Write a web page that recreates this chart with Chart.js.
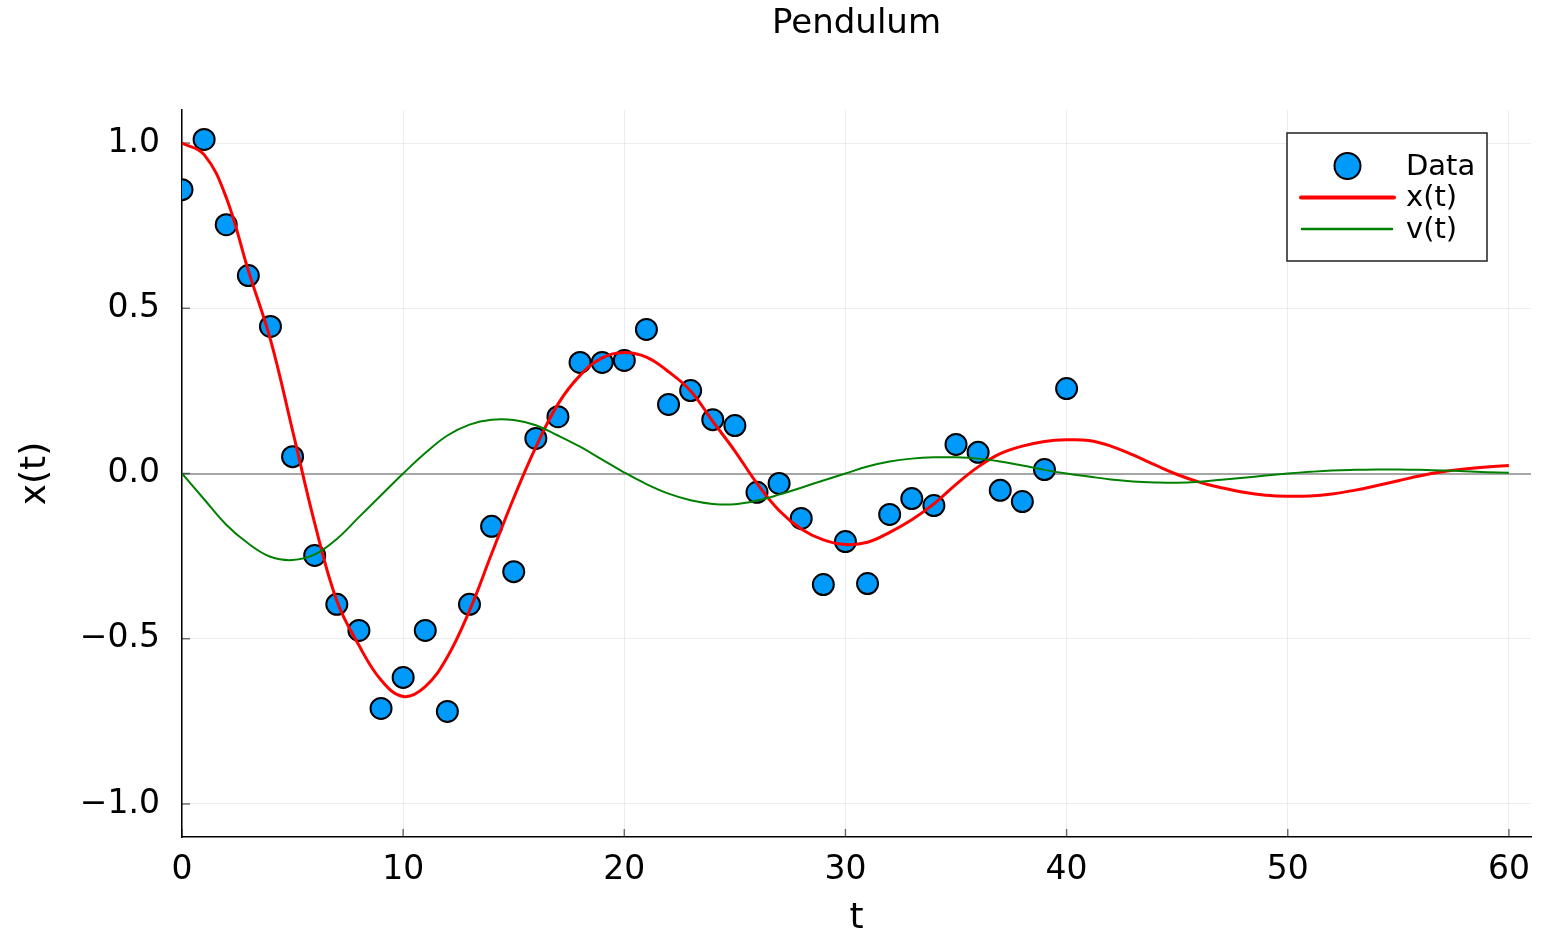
<!DOCTYPE html>
<html>
<head>
<meta charset="utf-8">
<title>Pendulum</title>
<script src="https://cdn.jsdelivr.net/npm/chart.js@4.4.1/dist/chart.umd.min.js"></script>
<style>
  html, body { margin: 0; padding: 0; background: #fff; }
  canvas { display: block; }
</style>
</head>
<body>
<canvas id="pendulum" width="1550" height="937"></canvas>
<script>
// measured samples (blue dots)
const tData = [0, 1, 2, 3, 4, 5, 6, 7, 8, 9, 10, 11, 12, 13, 14, 15, 16, 17, 18, 19, 20,
  21, 22, 23, 24, 25, 26, 27, 28, 29, 30, 31, 32, 33, 34, 35, 36, 37, 38, 39, 40];
const xData = [0.859, 1.011, 0.753, 0.599, 0.445, 0.051, -0.248, -0.396, -0.475, -0.711, -0.617,
  -0.475, -0.720, -0.396, -0.160, -0.297, 0.106, 0.172, 0.336, 0.336, 0.342,
  0.436, 0.209, 0.251, 0.163, 0.145, -0.057, -0.030, -0.136, -0.336, -0.206,
  -0.333, -0.124, -0.076, -0.097, 0.088, 0.064, -0.051, -0.085, 0.012, 0.257];

const tLine = [0, 1, 2, 3, 4, 5, 6, 7, 8, 9, 10, 11, 12, 13, 14, 15, 16, 17, 18, 19, 20,
  21, 22, 23, 24, 25, 26, 27, 28, 29, 30, 31, 32, 33, 34, 35, 36, 37, 38, 39, 40,
  41, 42, 43, 44, 45, 46, 47, 48, 49, 50, 51, 52, 53, 54, 55, 56, 57, 58, 59, 60];
const xLine = [1.0, 0.965, 0.835, 0.614, 0.405, 0.13, -0.15, -0.385, -0.52, -0.625, -0.675,
  -0.645, -0.555, -0.415, -0.243, -0.074, 0.08, 0.21, 0.297, 0.35, 0.366,
  0.352, 0.308, 0.25, 0.158, 0.068, -0.03, -0.112, -0.168, -0.201, -0.215,
  -0.208, -0.178, -0.14, -0.092, -0.033, 0.02, 0.06, 0.083, 0.097, 0.102,
  0.1, 0.083, 0.056, 0.026, -0.003, -0.026, -0.043, -0.057, -0.066, -0.069,
  -0.068, -0.062, -0.051, -0.037, -0.022, -0.007, 0.005, 0.014, 0.02, 0.024];
const vLine = [0, -0.078, -0.155, -0.212, -0.252, -0.262, -0.245, -0.198, -0.132, -0.066, 0,
  0.062, 0.115, 0.148, 0.163, 0.162, 0.146, 0.115, 0.081, 0.042, 0.003,
  -0.032, -0.061, -0.081, -0.092, -0.093, -0.082, -0.064, -0.043, -0.021, 0,
  0.021, 0.036, 0.045, 0.049, 0.049, 0.045, 0.036, 0.024, 0.011, 0,
  -0.009, -0.018, -0.024, -0.027, -0.028, -0.025, -0.019, -0.013, -0.006, 0,
  0.005, 0.009, 0.011, 0.012, 0.012, 0.011, 0.009, 0.007, 0.004, 0.002];

const xTicks = [0, 10, 20, 30, 40, 50, 60];
const yTicks = [-1, -0.5, 0, 0.5, 1];
const seriesNames = ["Data", "x(t)", "v(t)"];

const FONT = "'DejaVu Sans', sans-serif";
const BLUE = "rgb(0,154,250)";
const RED = "rgb(255,0,0)";
const GREEN = "rgb(0,128,0)";

function pairs(xs, ys) {
  return xs.map((x, i) => ({ x: x, y: ys[i] }));
}

function fmtY(v) {
  return (v < 0 ? "\u2212" : "") + Math.abs(v).toFixed(1);
}

//------------------------------------------------------------------------
// inward tick marks, title and the boxed legend
const decorations = {
  id: "decorations",
  beforeDatasetsDraw(chart) {
    const { ctx, chartArea: a, scales } = chart;
    ctx.save();
    ctx.strokeStyle = "rgba(0,0,0,0.55)";
    ctx.lineWidth = 1.5;
    scales.x.ticks.forEach((tk) => {
      const px = scales.x.getPixelForValue(tk.value);
      ctx.beginPath();
      ctx.moveTo(px, a.bottom);
      ctx.lineTo(px, a.bottom - 8);
      ctx.stroke();
    });
    scales.y.ticks.forEach((tk) => {
      const py = scales.y.getPixelForValue(tk.value);
      ctx.beginPath();
      ctx.moveTo(a.left, py);
      ctx.lineTo(a.left + 8, py);
      ctx.stroke();
    });
    ctx.restore();
  },
  afterDraw(chart) {
    const { ctx, chartArea: a } = chart;
    ctx.save();

    ctx.fillStyle = "#000";
    ctx.font = "34px " + FONT;
    ctx.textAlign = "center";
    ctx.textBaseline = "alphabetic";
    ctx.fillText("Pendulum", (a.left + a.right) / 2, 33);

    const left = a.right - 244;
    const top = a.top + 23;
    ctx.fillStyle = "#fff";
    ctx.fillRect(left, top, 200, 128);
    ctx.strokeStyle = "#222";
    ctx.lineWidth = 1.5;
    ctx.strokeRect(left, top, 200, 128);

    const rows = [top + 33, top + 64.5, top + 96];
    ctx.beginPath();
    ctx.arc(left + 60.5, rows[0], 13, 0, Math.PI * 2);
    ctx.fillStyle = BLUE;
    ctx.fill();
    ctx.lineWidth = 2;
    ctx.strokeStyle = "#000";
    ctx.stroke();

    ctx.lineCap = "round";
    ctx.strokeStyle = RED;
    ctx.lineWidth = 4;
    ctx.beginPath();
    ctx.moveTo(left + 14, rows[1]);
    ctx.lineTo(left + 107, rows[1]);
    ctx.stroke();

    ctx.strokeStyle = GREEN;
    ctx.lineWidth = 2.5;
    ctx.beginPath();
    ctx.moveTo(left + 15, rows[2]);
    ctx.lineTo(left + 105, rows[2]);
    ctx.stroke();

    ctx.fillStyle = "#000";
    ctx.font = "29px " + FONT;
    ctx.textAlign = "left";
    ctx.textBaseline = "middle";
    seriesNames.forEach((name, i) => {
      ctx.fillText(name, left + 119, rows[i] + 1);
    });
    ctx.restore();
  },
};

const chart = new Chart(document.getElementById("pendulum"), {
  type: "scatter",
  data: {
    datasets: [
      {
        label: seriesNames[0],
        data: pairs(tData, xData),
        pointRadius: 10.5,
        pointBorderWidth: 2,
        pointBackgroundColor: BLUE,
        pointBorderColor: "#000",
        showLine: false,
        order: 3,
      },
      {
        label: seriesNames[1],
        data: pairs(tLine, xLine),
        showLine: true,
        borderColor: RED,
        borderWidth: 3,
        pointRadius: 0,
        tension: 0.4,
        order: 2,
      },
      {
        label: seriesNames[2],
        data: pairs(tLine, vLine),
        showLine: true,
        borderColor: GREEN,
        borderWidth: 2,
        pointRadius: 0,
        tension: 0.4,
        order: 1,
      },
    ],
  },
  options: {
    responsive: false,
    animation: false,
    devicePixelRatio: 1,
    layout: { padding: { top: 110, right: 19, bottom: 0, left: 0 } },
    plugins: {
      legend: { display: false },
      title: { display: false },
      tooltip: { enabled: false },
    },
    scales: {
      x: {
        type: "linear",
        min: 0,
        max: 61,
        afterBuildTicks: (scale) => {
          scale.ticks = xTicks.map((v) => ({ value: v }));
        },
        afterFit: (scale) => {
          scale.height = 100;
        },
        border: { display: true, color: "#000", width: 1.5 },
        grid: { color: "rgba(0,0,0,0.07)", lineWidth: 1, drawTicks: false },
        ticks: {
          padding: 14,
          color: "#000",
          font: { family: FONT, size: 33 },
          maxRotation: 0,
          callback: (v) => String(v),
        },
        title: {
          display: true,
          text: "t",
          color: "#000",
          font: { family: FONT, size: 36, lineHeight: 1.0 },
          padding: { top: 0, bottom: 0 },
        },
      },
      y: {
        type: "linear",
        min: -1.1,
        max: 1.1,
        afterBuildTicks: (scale) => {
          scale.ticks = yTicks.map((v) => ({ value: v }));
        },
        afterFit: (scale) => {
          scale.width = 182;
        },
        border: { display: true, color: "#000", width: 1.5 },
        grid: {
          color: (c) => (c.tick && c.tick.value === 0 ? "#a6a6a6" : "rgba(0,0,0,0.07)"),
          lineWidth: (c) => (c.tick && c.tick.value === 0 ? 2 : 1),
          drawTicks: false,
        },
        ticks: {
          padding: 22,
          color: "#000",
          font: { family: FONT, size: 33 },
          callback: (v) => fmtY(v),
        },
        title: {
          display: true,
          text: "x(t)",
          color: "#000",
          font: { family: FONT, size: 36 },
          padding: { top: 14, bottom: 0 },
        },
      },
    },
  },
  plugins: [decorations],
});
</script>
</body>
</html>
